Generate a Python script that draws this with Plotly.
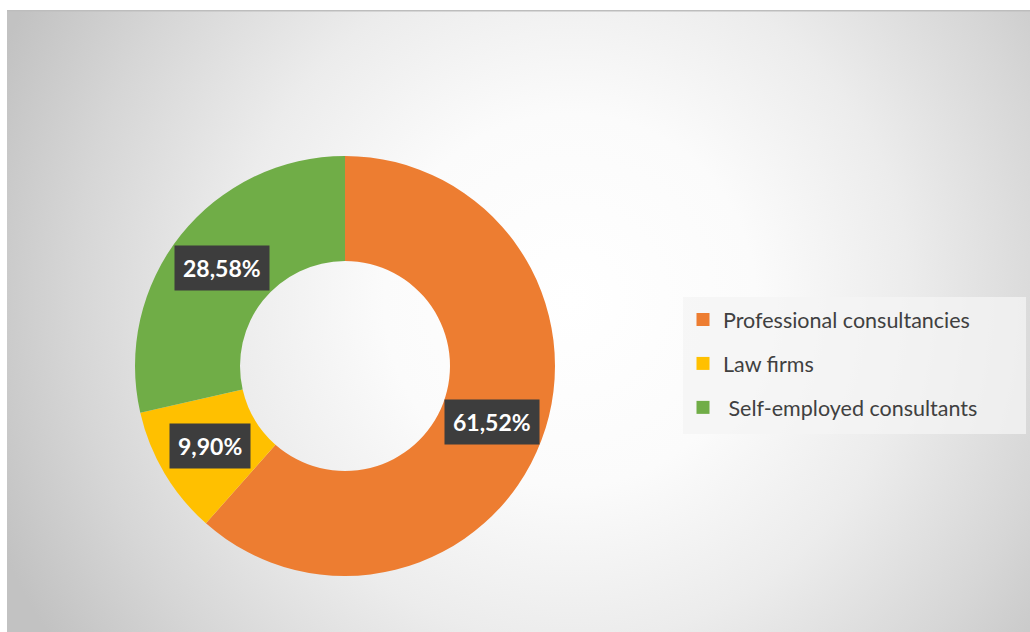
import math
import base64
import plotly.graph_objects as go

# ---- data ----
categories = ["Professional consultancies", "Law firms", "Self-employed consultants"]
values = [61.52, 9.90, 28.58]
colors = ["#ED7D31", "#FFC000", "#70AD47"]
label_texts = ["61,52%", "9,90%", "28,58%"]

W, H = 1030, 632

# radial gradient background as an SVG image
svg = f'''<svg xmlns="http://www.w3.org/2000/svg" width="{W}" height="{H}" viewBox="0 0 {W} {H}">
<defs><radialGradient id="g" gradientUnits="userSpaceOnUse" cx="570" cy="300" r="620">
<stop offset="0" stop-color="#ffffff"/>
<stop offset="0.3" stop-color="#fbfbfb"/>
<stop offset="0.55" stop-color="#ececec"/>
<stop offset="0.8" stop-color="#d6d6d6"/>
<stop offset="1" stop-color="#c2c2c2"/>
</radialGradient></defs>
<rect x="0" y="0" width="{W}" height="{H}" fill="white"/>
<rect x="7" y="10" width="{W-7}" height="{H-10}" fill="url(#g)"/>
<rect x="7" y="10" width="{W-7}" height="1.5" fill="#bdbdbd"/>
</svg>'''
src = "data:image/svg+xml;base64," + base64.b64encode(svg.encode()).decode()

# donut geometry (pixels)
cx, cy, R = 345, 366, 210
hole = 0.5
dom_x = [(cx - R) / W, (cx + R) / W]
dom_y = [1 - (cy + R) / H, 1 - (cy - R) / H]

fig = go.Figure()
fig.add_trace(go.Pie(
    labels=categories, values=values, hole=hole, sort=False,
    direction="clockwise", rotation=0,
    marker=dict(colors=colors, line=dict(width=0)),
    textinfo="none", hoverinfo="label+percent",
    domain=dict(x=dom_x, y=dom_y), showlegend=False,
))

# legend entries
leg_names = ["Professional consultancies", "Law firms", " Self-employed consultants"]
for i, (name, col) in enumerate(zip(leg_names, colors)):
    fig.add_trace(go.Scatter(
        x=[None], y=[None], mode="markers", name=name, legendgroup=f"g{i}",
        marker=dict(symbol="square", size=13, color=col),
    ))

# data labels at the slice mid-angles
total = sum(values)
cum = 0.0
annotations = []
rmid = R * (1 + hole) / 2
for v, t in zip(values, label_texts):
    mid = (cum + v / 2) / total * 2 * math.pi
    cum += v
    px = cx + rmid * math.sin(mid)
    py = cy - rmid * math.cos(mid)
    annotations.append(dict(
        x=px / W, y=1 - py / H, xref="paper", yref="paper",
        text=f"<b>{t}</b>", showarrow=False,
        font=dict(family="Lato, Open Sans, sans-serif", size=23, color="white"),
        bgcolor="#3d3d3d", borderpad=8, xanchor="center", yanchor="middle",
    ))

# legend background box
shapes = [dict(type="rect", xref="paper", yref="paper",
               x0=683 / W, x1=1026 / W, y0=1 - 434 / H, y1=1 - 297 / H,
               fillcolor="rgba(244,244,244,0.75)", line=dict(width=0), layer="below")]

fig.update_layout(
    width=W, height=H,
    margin=dict(l=0, r=0, t=0, b=0),
    paper_bgcolor="white", plot_bgcolor="rgba(0,0,0,0)",
    xaxis=dict(visible=False), yaxis=dict(visible=False),
    images=[dict(source=src, xref="paper", yref="paper", x=0, y=1,
                 sizex=1, sizey=1, xanchor="left", yanchor="top",
                 sizing="stretch", layer="below")],
    legend=dict(
        x=683 / W, y=1 - 299 / H, xanchor="left", yanchor="top",
        bgcolor="rgba(0,0,0,0)", tracegroupgap=13,
        font=dict(family="Lato, Open Sans, sans-serif", size=21.5, color="#404040"),
        itemwidth=30,
    ),
    shapes=shapes,
    annotations=annotations,
    showlegend=True,
)

fig.write_html("out.html", config={"displayModeBar": False},
               post_script="document.body.style.margin='0';")
